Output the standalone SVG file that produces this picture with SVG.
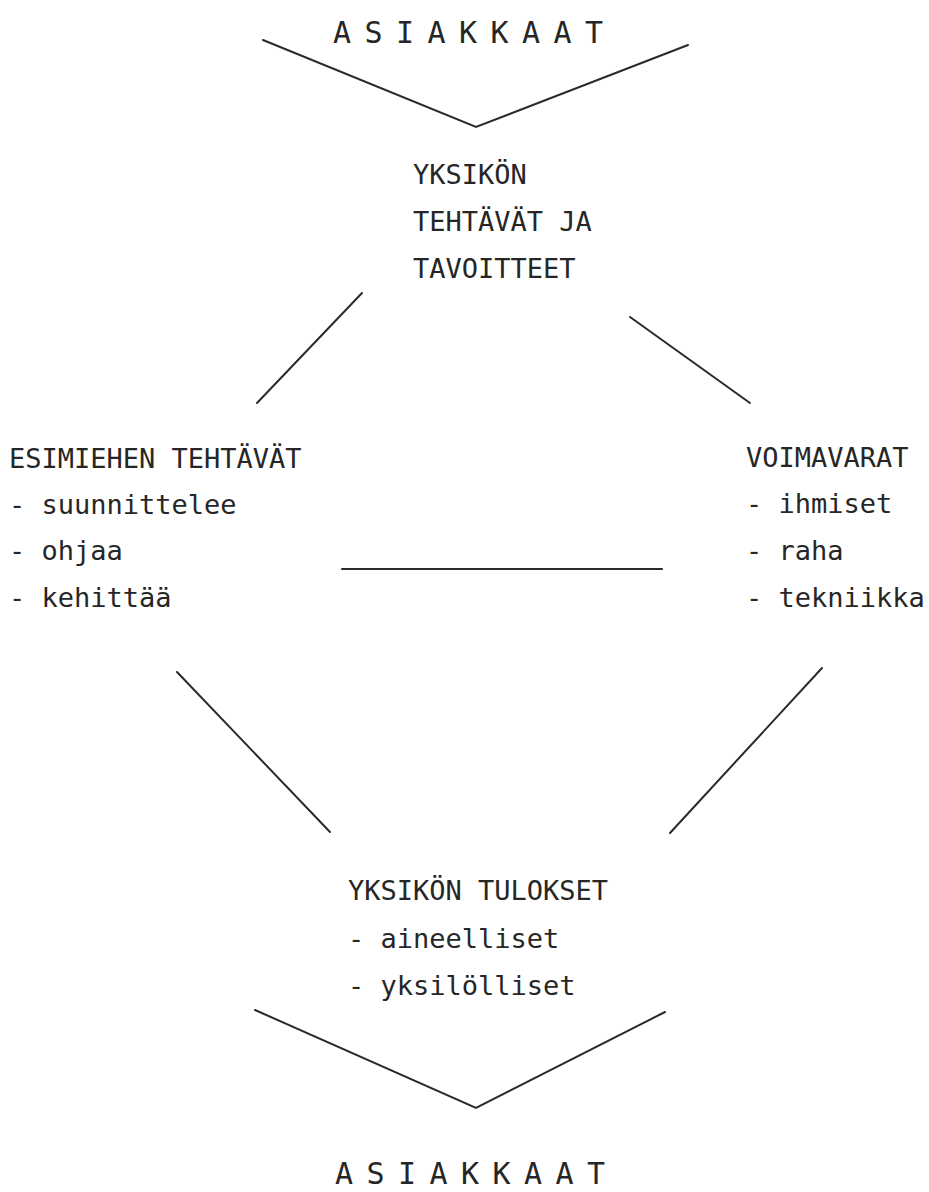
<svg xmlns="http://www.w3.org/2000/svg" width="929" height="1192" viewBox="0 0 929 1192">
<style>
text{font-family:"DejaVu Sans Mono","Liberation Mono",monospace;font-size:27px;fill:#262626}
.h{font-size:30px}
.c line,.c polyline{stroke:#2a2a2a;stroke-width:2;fill:none;stroke-linecap:round;stroke-linejoin:miter}
</style>
<rect width="929" height="1192" fill="#fff"/>
<g id="asiakkaat-top"><text class="h" x="333" y="43" textLength="270" lengthAdjust="spacing">A S I A K K A A T</text></g>
<g id="yksikon-tehtavat"><text x="413" y="184">YKSIKÖN</text><text x="413" y="231">TEHTÄVÄT JA</text><text x="413" y="278">TAVOITTEET</text></g>
<g id="esimiehen"><text x="9" y="468">ESIMIEHEN TEHTÄVÄT</text><text x="9" y="514">- suunnittelee</text><text x="9" y="560">- ohjaa</text><text x="9" y="607">- kehittää</text></g>
<g id="voimavarat"><text x="746" y="467">VOIMAVARAT</text><text x="746" y="513">- ihmiset</text><text x="746" y="560">- raha</text><text x="746" y="607">- tekniikka</text></g>
<g id="tulokset"><text x="348" y="900">YKSIKÖN TULOKSET</text><text x="348" y="948">- aineelliset</text><text x="348" y="995">- yksilölliset</text></g>
<g id="asiakkaat-bottom"><text class="h" x="335" y="1184" textLength="270" lengthAdjust="spacing">A S I A K K A A T</text></g>
<g class="c" id="connectors">
<polyline points="263,40 476,127 688,45"/>
<line x1="362" y1="293" x2="257" y2="403"/>
<line x1="630" y1="317" x2="750" y2="403"/>
<line x1="342" y1="569" x2="662" y2="569"/>
<line x1="177" y1="672" x2="330" y2="832"/>
<line x1="822" y1="668" x2="670" y2="833"/>
<polyline points="255,1010 476,1108 665,1012"/>
</g>
</svg>
